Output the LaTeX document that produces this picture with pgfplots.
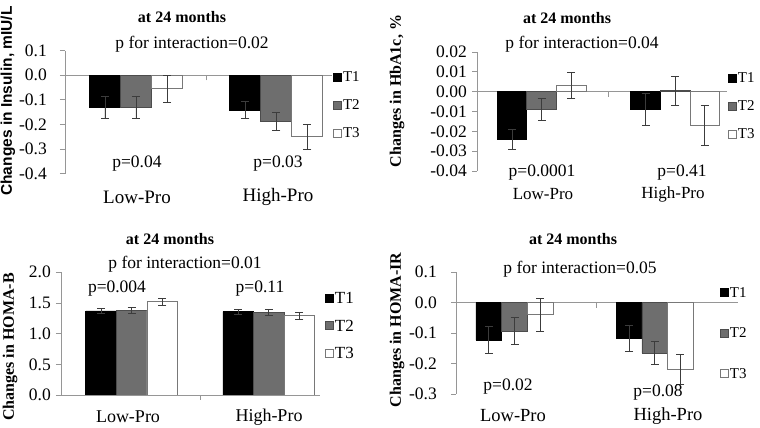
\documentclass[border=0pt]{standalone}
\usepackage{pgfplots}
\pgfplotsset{compat=1.18}
\usepackage{fontspec}
\setmainfont{Liberation Serif}
\newfontfamily\arialfont{Liberation Sans}
\definecolor{axgray}{RGB}{150,150,150}
\definecolor{tgray}{RGB}{110,110,110}
\definecolor{ebar}{RGB}{60,60,60}
\definecolor{t3edge}{RGB}{120,120,120}
\pgfplotsset{
  panel/.style={
    scale only axis, ybar=0pt, anchor=south west,
    axis y line*=left, axis x line*=middle,
    axis line style={draw=axgray, line width=0.9pt},
    every tick/.style={draw=axgray, line width=0.9pt},
    tick align=outside, major tick length=5pt,
    xticklabels={}, scaled y ticks=false,
    tick label style={font=\fontsize{17.5}{20}\selectfont},
    /pgf/number format/assume math mode=true,
    yticklabel style={/pgf/number format/fixed, /pgf/number format/fixed zerofill, inner sep=0pt, anchor=east},
    legend cell align=left,
    legend style={draw=none, fill=none, inner sep=0pt, anchor=north west,
      font=\fontsize{15}{17}\selectfont,
      nodes={inner sep=1pt, text height=10pt, text depth=0pt}},
  },
  sqlegend/.style={legend image code/.code={\draw[##1] (0pt,-4pt) rectangle (8pt,4pt);}},
  eb/.style={error bars/y dir=both, error bars/y explicit,
    error bars/error bar style={draw=ebar, line width=0.9pt},
    error bars/error mark options={draw=ebar, rotate=90, mark size=4pt, line width=0.9pt}},
  s1/.style={fill=black, draw=black, line width=0.8pt, sqlegend, eb},
  s2/.style={fill=tgray, draw=black!70, line width=0.8pt, sqlegend, eb},
  s3/.style={fill=white, draw=t3edge, line width=0.8pt, sqlegend, eb},
}
\newcommand{\fa}{\fontsize{17.5}{20}\selectfont}
\newcommand{\fb}{\fontsize{16}{18}\selectfont\bfseries}
\begin{document}
\begin{tikzpicture}[x=1pt,y=1pt]
\useasboundingbox (0,0) rectangle (760,428);
% Panel 1: Insulin
\begin{axis}[panel, at={(65pt,254.3pt)}, width=267pt, height=123pt,
  xmin=-0.506, xmax=1.397, ymin=-0.4, ymax=0.1, bar width=0.221,
  xtick={0.5}, ytick={-0.4,-0.3,-0.2,-0.1,0,0.1},
  yticklabel style={/pgf/number format/precision=1, xshift=-13pt},
  legend style={at={(1.004,0.837)}, row sep=16pt}]
\addplot[s1] coordinates {(0,-0.131) +- (0,0.044) (1,-0.141) +- (0,0.034)};
\addplot[s2] coordinates {(0,-0.131) +- (0,0.043) (1,-0.188) +- (0,0.037)};
\addplot[s3] coordinates {(0,-0.055) +- (0,0.055) (1,-0.250) +- (0,0.051)};
\legend{T1,T2,T3}
\end{axis}
% Panel 2: HbA1c
\begin{axis}[panel, at={(477pt,257pt)}, width=249.7pt, height=119pt,
  xmin=-0.484, xmax=1.385, ymin=-0.04, ymax=0.02, bar width=0.222,
  xtick={0.5}, ytick={-0.04,-0.03,-0.02,-0.01,0,0.01,0.02},
  yticklabel style={/pgf/number format/precision=2, xshift=-5pt},
  legend style={at={(1.005,0.834)}, row sep=16pt}]
\addplot[s1] coordinates {(0,-0.024) +- (0,0.005) (1,-0.009) +- (0,0.008)};
\addplot[s2] coordinates {(0,-0.009) +- (0,0.0055) (1,0.0005) +- (0,0.0073)};
\addplot[s3] coordinates {(0,0.003) +- (0,0.0066) (1,-0.017) +- (0,0.0103)};
\legend{T1,T2,T3}
\end{axis}
% Panel 3: HOMA-B
\begin{axis}[panel, at={(61pt,33pt)}, width=259pt, height=122.7pt,
  xmin=-0.516, xmax=1.374, ymin=0, ymax=2, bar width=0.223,
  xtick={0.5}, ytick={0,0.5,1,1.5,2},
  yticklabel style={/pgf/number format/precision=1, xshift=-5pt},
  legend style={at={(1.019,0.844)}, row sep=14.5pt, font=\fontsize{17}{19}\selectfont,
    nodes={inner sep=1pt, text height=11pt, text depth=0pt}}]
\addplot[s1] coordinates {(0,1.370) +- (0,0.04) (1,1.359) +- (0,0.04)};
\addplot[s2] coordinates {(0,1.378) +- (0,0.045) (1,1.345) +- (0,0.045)};
\addplot[s3] coordinates {(0,1.520) +- (0,0.055) (1,1.293) +- (0,0.055)};
\legend{T1,T2,T3}
\end{axis}
% Panel 4: HOMA-IR
\begin{axis}[panel, at={(456pt,34pt)}, width=282pt, height=121.7pt,
  xmin=-0.417, xmax=1.593, ymin=-0.3, ymax=0.1, bar width=0.183,
  xtick={0.586}, ytick={-0.3,-0.2,-0.1,0,0.1},
  yticklabel style={/pgf/number format/precision=1, xshift=-14pt},
  legend style={at={(0.936,0.885)}, row sep=28.5pt}]
\addplot[s1] coordinates {(0,-0.123) +- (0,0.044) (1,-0.118) +- (0,0.042)};
\addplot[s2] coordinates {(0,-0.093) +- (0,0.044) (1,-0.166) +- (0,0.038)};
\addplot[s3] coordinates {(0,-0.040) +- (0,0.055) (1,-0.219) +- (0,0.050)};
\legend{T1,T2,T3}
\end{axis}
% texts panel 1
\node[font=\fb, inner sep=0pt] at (182,411) {at 24 months};
\node[font=\fa, inner sep=0pt] at (192,384) {p for interaction=0.02};
\node[font=\fa, inner sep=0pt] at (137,264) {p=0.04};
\node[font=\fa, inner sep=0pt] at (278,264) {p=0.03};
\node[font=\fontsize{19}{21}\selectfont, inner sep=0pt] at (137,231) {Low-Pro};
\node[font=\fontsize{19}{21}\selectfont, inner sep=0pt] at (278,231) {High-Pro};
\node[font=\fontsize{15.5}{18}\selectfont\arialfont\bfseries, inner sep=0pt, rotate=90] at (8,327) {Changes in Insulin, mIU/L};
% texts panel 2
\node[font=\fb, inner sep=0pt] at (567,410) {at 24 months};
\node[font=\fa, inner sep=0pt] at (582,384) {p for interaction=0.04};
\node[font=\fa, inner sep=0pt] at (542,255) {p=0.0001};
\node[font=\fa, inner sep=0pt] at (682,255) {p=0.41};
\node[font=\fontsize{17}{19}\selectfont, inner sep=0pt] at (543,234) {Low-Pro};
\node[font=\fontsize{17}{19}\selectfont, inner sep=0pt] at (673,234) {High-Pro};
\node[font=\fb, inner sep=0pt, rotate=90] at (397,337) {Changes in HbA1c, \%};
% texts panel 3
\node[font=\fb, inner sep=0pt] at (170,189) {at 24 months};
\node[font=\fa, inner sep=0pt] at (185,164) {p for interaction=0.01};
\node[font=\fa, inner sep=0pt] at (117,139) {p=0.004};
\node[font=\fa, inner sep=0pt] at (260,139) {p=0.11};
\node[font=\fontsize{18}{20}\selectfont, inner sep=0pt] at (128,11) {Low-Pro};
\node[font=\fontsize{18}{20}\selectfont, inner sep=0pt] at (269,11) {High-Pro};
\node[font=\fb, inner sep=0pt, rotate=90] at (10,81) {Changes in HOMA-B};
% texts panel 4
\node[font=\fb, inner sep=0pt] at (573,189) {at 24 months};
\node[font=\fa, inner sep=0pt] at (580,159) {p for interaction=0.05};
\node[font=\fa, inner sep=0pt] at (508,41.3) {p=0.02};
\node[font=\fa, inner sep=0pt] at (658,35) {p=0.08};
\node[font=\fontsize{18.5}{20}\selectfont, inner sep=0pt] at (513,12) {Low-Pro};
\node[font=\fontsize{18.5}{20}\selectfont, inner sep=0pt] at (668,12) {High-Pro};
\node[font=\fb, inner sep=0pt, rotate=90] at (397,98) {Changes in HOMA-IR};
\end{tikzpicture}
\end{document}
